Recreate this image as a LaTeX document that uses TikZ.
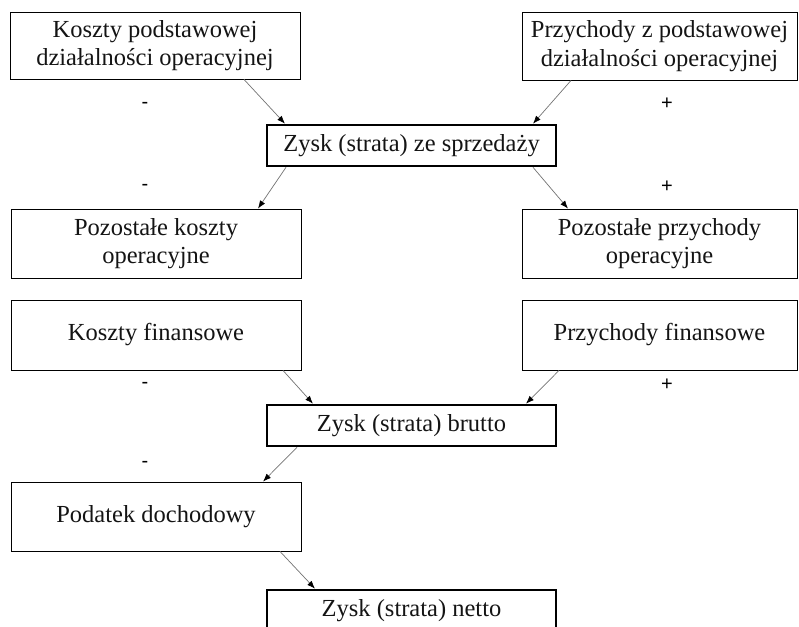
\documentclass[tikz,border=0pt]{standalone}
\usepackage{fontspec}
\setmainfont{Liberation Serif}
\newfontfamily\signfont{Liberation Sans}
\usetikzlibrary{arrows.meta}
\begin{document}
\begin{tikzpicture}[x=1pt,y=-1pt,
  box/.style={draw, line width=0.9pt, align=center, inner sep=0pt,
    font=\fontsize{24.5}{28.5}\selectfont, text=black!92},
  wide/.style={box, minimum width=290pt},
  rwide/.style={box, minimum width=275pt},
  result/.style={box, line width=2.6pt, minimum width=289pt, minimum height=41pt},
  conn/.style={draw=black!55, line width=0.7pt,
    -{Latex[length=8pt,width=6pt,color=black]}},
  sign/.style={font=\signfont\fontsize{20}{22}\selectfont, text=black, inner sep=0pt}
]
\useasboundingbox (0,0) rectangle (799,626);

% first row
\node[wide, minimum height=67pt] (kpd) at (155,45.5) {Koszty podstawowej\\działalności operacyjnej};
\node[rwide, minimum height=68pt] (ppd) at (659.5,46) {Przychody z podstawowej\\działalności operacyjnej};
\node[result] (zs) at (411.5,145.5) {Zysk (strata) ze sprzedaży};

% other operating items
\node[wide, minimum height=69pt] (pko) at (156,243.5) {Pozostałe koszty\\operacyjne};
\node[rwide, minimum height=69pt] (ppo) at (659.5,243.5) {Pozostałe przychody\\operacyjne};

% financial items
\node[wide, minimum height=70pt] (kf) at (156,335) {Koszty finansowe};
\node[rwide, minimum height=70pt] (pf) at (659.5,335) {Przychody finansowe};
\node[result] (zb) at (411.5,425.5) {Zysk (strata) brutto};

% tax and net result
\node[wide, minimum height=69pt] (pd) at (156,516.5) {Podatek dochodowy};
\node[result] (zn) at (411.5,610.5) {Zysk (strata) netto};

% connectors
\draw[conn] ([xshift=89pt]kpd.south) -- ([xshift=-126.5pt]zs.north);
\draw[conn] ([xshift=-88.5pt]ppd.south) -- ([xshift=121.5pt]zs.north);
\draw[conn] ([xshift=-125.5pt]zs.south) -- ([xshift=102pt]pko.north);
\draw[conn] ([xshift=121.5pt]zs.south) -- ([xshift=-91.5pt]ppo.north);
\draw[conn] ([xshift=127pt]kf.south) -- ([xshift=-98.5pt]zb.north);
\draw[conn] ([xshift=-100.5pt]pf.south) -- ([xshift=114.5pt]zb.north);
\draw[conn] ([xshift=-114.5pt]zb.south) -- ([xshift=107pt]pd.north);
\draw[conn] ([xshift=124pt]pd.south) -- ([xshift=-96.5pt]zn.north);

% signs
\node[sign] (m1) at (145,105) {-};
\node[sign] (p1) at (667,104) {+};
\node[sign] (m2) at (145,187) {-};
\node[sign] (p2) at (667,187) {+};
\node[sign] (m3) at (145,385) {-};
\node[sign] (p3) at (667,385) {+};
\node[sign] (m4) at (145,464) {-};
\end{tikzpicture}
\end{document}
